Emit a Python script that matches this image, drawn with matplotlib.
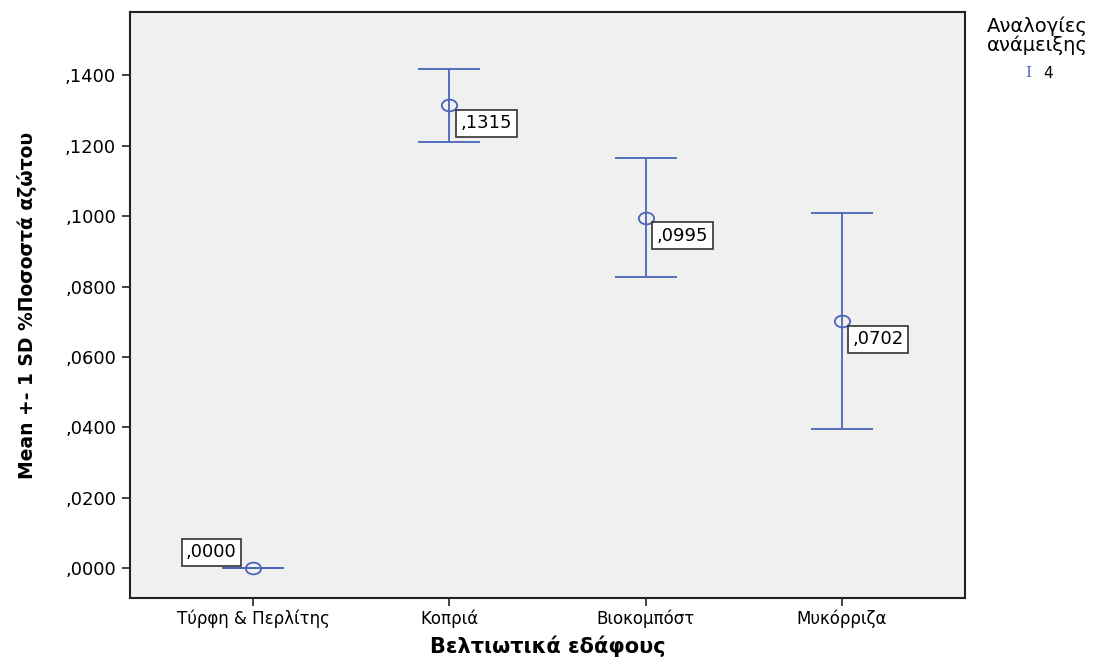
import matplotlib.pyplot as plt
import numpy as np
from matplotlib.path import Path

# Mean +- 1 SD of nitrogen % per soil amendment
categories = ['Τύρφη & Περλίτης', 'Κοπριά', 'Βιοκομπόστ', 'Μυκόρριζα']
means = [0.0000, 0.1315, 0.0995, 0.0702]
sds = [0.0000, 0.0103, 0.0169, 0.0306]
labels = [',0000', ',1315', ',0995', ',0702']
yticks = [0.0, 0.02, 0.04, 0.06, 0.08, 0.10, 0.12, 0.14]

blue = '#4a64b8'

# slightly flattened circle, like the reference marker
circ = Path.unit_circle()
oval = Path(circ.vertices * np.array([1.3, 1.0]), circ.codes)

fig = plt.figure(figsize=(11.08, 6.6), dpi=100)
ax = fig.add_axes([130/1108, 62/660, 835/1108, 586/660])
ax.set_facecolor('#f0f0f0')

x = np.arange(len(categories))
ax.errorbar(x, means, yerr=sds, fmt='none', ecolor=blue, elinewidth=1.3,
            capsize=22, capthick=1.3)
# first group has zero SD, the cap still shows as a flat line
ax.plot([x[0] - 0.117, x[0] + 0.117], [means[0], means[0]], color=blue, lw=1.3)
ax.plot(x, means, linestyle='none', marker=oval, mfc='none', mec=blue, ms=11, mew=1.3)

box = dict(boxstyle='square,pad=0.25', fc='white', ec='#333333', lw=1.2)
for i, (m, lab) in enumerate(zip(means, labels)):
    if i == 0:
        ax.annotate(lab, (x[i], m), xytext=(-12, 11.5), textcoords='offset points',
                    fontsize=13, ha='right', va='center', bbox=box)
    else:
        ax.annotate(lab, (x[i], m), xytext=(8, -13), textcoords='offset points',
                    fontsize=13, ha='left', va='center', bbox=box)

ax.set_xlim(-0.63, 3.63)
ax.set_ylim(-0.0085, 0.158)
ax.set_xticks(x)
ax.set_xticklabels(categories, fontsize=12)
ax.set_yticks(yticks)
ax.set_yticklabels([',' + ('%.4f' % v).split('.')[1] for v in yticks], fontsize=13)
ax.tick_params(axis='y', direction='out', length=6, width=1.2, color='#222222', pad=4)
ax.tick_params(axis='x', direction='out', length=6, width=1.2, color='#222222', pad=2)
for s in ax.spines.values():
    s.set_linewidth(1.5)
    s.set_color('#222222')

ax.set_xlabel('Βελτιωτικά εδάφους', fontsize=15, fontweight='bold', labelpad=6)
ax.set_ylabel('Mean +- 1 SD %Ποσοστά αζώτου', fontsize=13.5, fontweight='bold',
              labelpad=20)

fig.text(1037/1108, 1 - 36/660, 'Αναλογίες\nανάμειξης', ha='center', va='center',
         fontsize=14, linespacing=0.95)
fig.text(1028/1108, 1 - 73/660, 'I', ha='center', va='center', fontsize=11,
         color=blue, family='DejaVu Serif')
fig.text(1048/1108, 1 - 73/660, '4', ha='center', va='center', fontsize=11)

fig.savefig('out.png', dpi=100)
